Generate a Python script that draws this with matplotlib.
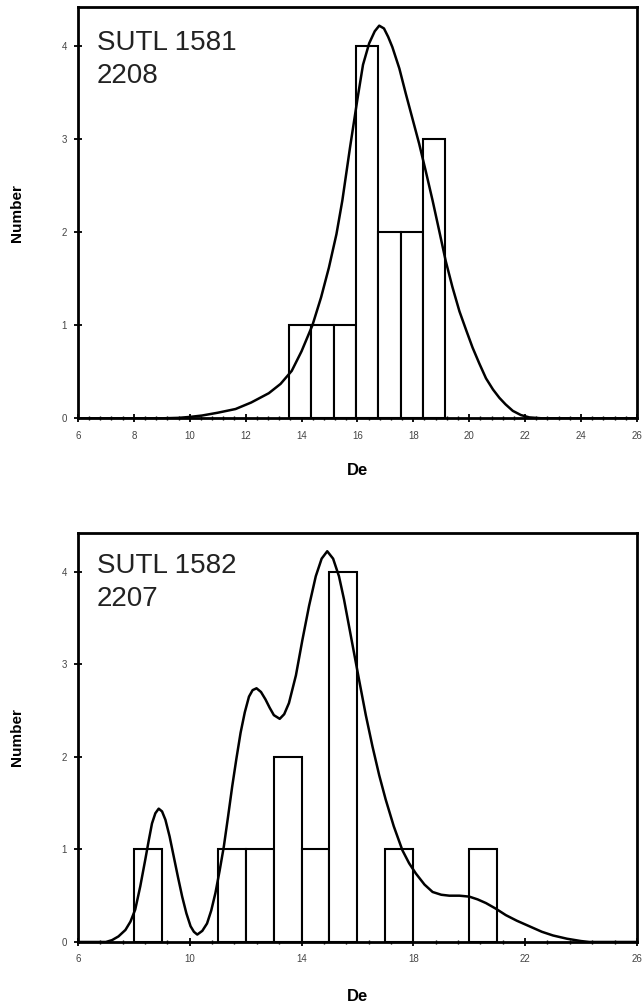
import numpy as np
import matplotlib
matplotlib.use("Agg")
import matplotlib.pyplot as plt
from matplotlib.ticker import MultipleLocator, FixedLocator

plt.rcParams['font.family'] = ['Liberation Sans', 'DejaVu Sans']

# SUTL 1581 / 2208 : histogram (bin edges, counts) and probability curve
top_edges = [13.55, 14.35, 15.15, 15.95, 16.75, 17.55, 18.35, 19.15]
top_counts = [1, 1, 1, 4, 2, 2, 3]
top_curve_x = [6.0, 8.0, 9.0, 9.6, 10.0, 10.44, 11.0, 11.64, 12.2, 12.83, 13.25, 13.65,
               14.0, 14.39, 14.7, 14.98, 15.25, 15.46, 15.73, 16.0, 16.2, 16.42, 16.62,
               16.78, 16.95, 17.1, 17.25, 17.5, 17.73, 17.97, 18.21, 18.45, 18.69,
               18.93, 19.16, 19.4, 19.65, 19.9, 20.12, 20.36, 20.6, 20.85, 21.08,
               21.3, 21.56, 21.85, 22.15, 22.6, 23.0, 24.0, 26.0]
top_curve_y = [0.0, 0.0, 0.0, 0.005, 0.015, 0.03, 0.06, 0.1, 0.17, 0.27, 0.37, 0.51,
               0.72, 1.0, 1.3, 1.62, 1.98, 2.34, 2.9, 3.43, 3.8, 4.03, 4.16,
               4.22, 4.19, 4.1, 3.99, 3.76, 3.49, 3.22, 2.95, 2.65, 2.34,
               2.01, 1.69, 1.41, 1.15, 0.94, 0.76, 0.59, 0.43, 0.31, 0.22,
               0.15, 0.08, 0.035, 0.01, 0.0, 0.0, 0.0, 0.0]

# SUTL 1582 / 2207
bot_edges = [8, 9, 10, 11, 12, 13, 14, 15, 16, 17, 18, 19, 20, 21]
bot_counts = [1, 0, 0, 1, 1, 2, 1, 4, 0, 1, 0, 0, 1]
bot_curve_x = [6.0, 7.0, 7.22, 7.45, 7.7, 7.88, 8.05, 8.23, 8.41, 8.53, 8.65, 8.77, 8.89,
               9.01, 9.13, 9.28, 9.43, 9.58, 9.73, 9.88, 10.03, 10.15, 10.27, 10.45,
               10.62, 10.77, 10.92, 11.07, 11.22, 11.37, 11.52, 11.67, 11.82, 11.97,
               12.12, 12.25, 12.39, 12.55, 12.71, 12.86, 13.01, 13.22, 13.38, 13.55,
               13.8, 14.03, 14.27, 14.51, 14.72, 14.92, 15.13, 15.34, 15.52, 15.7,
               15.88, 16.06, 16.3, 16.54, 16.78, 17.01, 17.3, 17.61, 17.85, 18.09,
               18.4, 18.69, 19.0, 19.29, 19.65, 20.0, 20.3, 20.6, 20.95, 21.31,
               21.7, 22.15, 22.6, 23.0, 23.5, 24.0, 24.3, 26.0]
bot_curve_y = [0.0, 0.0, 0.02, 0.06, 0.13, 0.22, 0.35, 0.6, 0.89, 1.09, 1.28, 1.39, 1.44,
               1.41, 1.32, 1.14, 0.92, 0.7, 0.49, 0.31, 0.17, 0.11, 0.08, 0.12,
               0.2, 0.34, 0.53, 0.77, 1.03, 1.35, 1.68, 1.98, 2.26, 2.48,
               2.65, 2.72, 2.74, 2.7, 2.62, 2.53, 2.45, 2.41, 2.46, 2.58,
               2.88, 3.26, 3.63, 3.95, 4.14, 4.22, 4.14, 3.95, 3.7, 3.41,
               3.12, 2.83, 2.45, 2.11, 1.8, 1.54, 1.25, 0.99, 0.85, 0.74,
               0.62, 0.54, 0.51, 0.5, 0.5, 0.49, 0.46, 0.42, 0.36, 0.29,
               0.23, 0.17, 0.11, 0.07, 0.035, 0.01, 0.0, 0.0]

fig = plt.figure(figsize=(6.44, 10.08), dpi=100)
ax1 = fig.add_axes([0.121, 0.585, 0.868, 0.408])
ax2 = fig.add_axes([0.121, 0.0655, 0.868, 0.406])

panels = [
    (ax1, top_edges, top_counts, top_curve_x, top_curve_y, 'SUTL 1581\n2208', 2, 0.4, 16, 0.943),
    (ax2, bot_edges, bot_counts, bot_curve_x, bot_curve_y, 'SUTL 1582\n2207', 4, 0.8, 18, 0.95),
]

for ax, edges, counts, cx, cy, label, major, minor, xpad, ty in panels:
    lefts = np.array(edges[:-1])
    widths = np.diff(edges)
    counts = np.array(counts)
    keep = counts > 0
    ax.bar(lefts[keep], counts[keep], width=widths[keep], align='edge',
           facecolor='white', edgecolor='black', linewidth=1.5, zorder=2)
    ax.plot(cx, cy, color='black', linewidth=1.8, zorder=3)

    ax.set_xlim(6, 26)
    ax.set_ylim(0, 4.42)
    ax.xaxis.set_major_locator(FixedLocator(np.arange(6, 26.01, major)))
    ax.xaxis.set_minor_locator(FixedLocator(np.arange(6, 26.01, minor)))
    ax.yaxis.set_major_locator(MultipleLocator(1))
    ax.tick_params(axis='both', which='major', direction='inout', length=6,
                   width=1.3, labelsize=7, colors='black', labelcolor='#444444')
    ax.tick_params(axis='x', which='major', pad=6)
    ax.tick_params(axis='x', which='minor', direction='inout', length=3, width=1)
    ax.tick_params(axis='y', which='major', pad=5)
    for s in ax.spines.values():
        s.set_linewidth(2)

    ax.text(0.034, ty, label, transform=ax.transAxes, fontsize=20,
            ha='left', va='top', linespacing=1.35, color='#222222')
    ax.set_xlabel('De', fontsize=12, fontweight='bold', labelpad=xpad)
    ax.set_ylabel('Number', fontsize=11, fontweight='bold', labelpad=27)

fig.savefig('out.png', dpi=100)
